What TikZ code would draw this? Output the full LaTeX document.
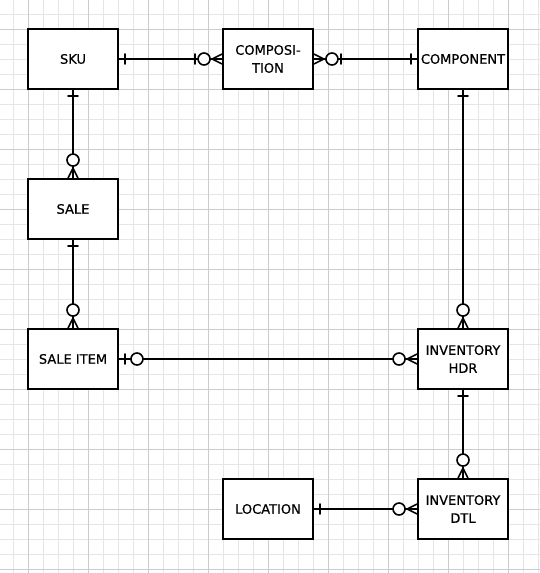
\documentclass[tikz,border=0pt]{standalone}
\usepackage{fontspec}
\setmainfont{DejaVu Sans}[FakeBold=0.6]
\usetikzlibrary{calc}
\newcommand\ercrow[3]{%
  \draw[rel] ($(#1)+10*(#2,#3)$) -- ($(#1)+5*(#3,#2)$)
             ($(#1)+10*(#2,#3)$) -- ($(#1)-5*(#3,#2)$);}
\newcommand\ercirc[4]{\draw[rel,fill=white] ($(#1)+#4*(#2,#3)$) circle[radius=6];}
\newcommand\erbar[4]{\draw[rel] ($(#1)+#4*(#2,#3)+5*(#3,#2)$) -- ($(#1)+#4*(#2,#3)-5*(#3,#2)$);}
\begin{document}
\begin{tikzpicture}[x=1pt,y=-1pt,
  ent/.style={draw=black, fill=white, line width=1.9pt, minimum width=90pt, minimum height=60pt,
    inner sep=0pt, align=center, font=\fontsize{13}{18}\selectfont},
  rel/.style={line width=1.6pt, line cap=round},
  gminor/.style={draw=black!10, line width=1pt},
  gmajor/.style={draw=black!20, line width=1pt}]
\useasboundingbox (0,0) rectangle (540,573);
\fill[white] (0,0) rectangle (540,573);
% grid
\foreach \x in {13.5,28.5,...,538.5} \draw[gminor] (\x,0) -- (\x,573);
\foreach \y in {14.5,29.5,...,572.5} \draw[gminor] (0,\y) -- (540,\y);
\foreach \x in {28.5,88.5,...,508.5} \draw[gmajor] (\x,0) -- (\x,573);
\foreach \y in {29.5,89.5,...,569.5} \draw[gmajor] (0,\y) -- (540,\y);
% entities
\node[ent] (sku)  at (73,59)  {SKU};
\node[ent] (comp) at (268,59) {COMPOSI-\\TION};
\node[ent] (cmpn) at (463,59) {COMPONENT};
\node[ent] (sale) at (73,209) {SALE};
\node[ent] (item) at (73,359) {SALE ITEM};
\node[ent] (hdr)  at (463,359) {INVENTORY\\HDR};
\node[ent] (dtl)  at (463,509) {INVENTORY\\DTL};
\node[ent] (loc)  at (268,509) {LOCATION};
% connectors
\draw[rel] (sku.east) -- (comp.west);
\draw[rel] (comp.east) -- (cmpn.west);
\draw[rel] (sku.south) -- (sale.north);
\draw[rel] (sale.south) -- (item.north);
\draw[rel] (cmpn.south) -- (hdr.north);
\draw[rel] (item.east) -- (hdr.west);
\draw[rel] (hdr.south) -- (dtl.north);
\draw[rel] (loc.east) -- (dtl.west);
% ends
\erbar{sku.east}{1}{0}{6}
\ercrow{comp.west}{-1}{0}\ercirc{comp.west}{-1}{0}{18}\erbar{comp.west}{-1}{0}{27}
\ercrow{comp.east}{1}{0}\ercirc{comp.east}{1}{0}{18}\erbar{comp.east}{1}{0}{27}
\erbar{cmpn.west}{-1}{0}{6}
\erbar{sku.south}{0}{1}{6}
\ercrow{sale.north}{0}{-1}\ercirc{sale.north}{0}{-1}{18}
\erbar{sale.south}{0}{1}{6}
\ercrow{item.north}{0}{-1}\ercirc{item.north}{0}{-1}{18}
\erbar{cmpn.south}{0}{1}{6}
\ercrow{hdr.north}{0}{-1}\ercirc{hdr.north}{0}{-1}{18}
\erbar{item.east}{1}{0}{6}\ercirc{item.east}{1}{0}{18}
\ercrow{hdr.west}{-1}{0}\ercirc{hdr.west}{-1}{0}{18}
\erbar{hdr.south}{0}{1}{6}
\ercrow{dtl.north}{0}{-1}\ercirc{dtl.north}{0}{-1}{18}
\erbar{loc.east}{1}{0}{6}
\ercrow{dtl.west}{-1}{0}\ercirc{dtl.west}{-1}{0}{18}
\end{tikzpicture}
\end{document}
